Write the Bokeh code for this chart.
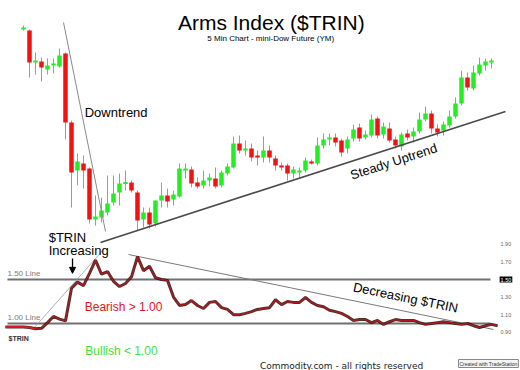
from bokeh.plotting import figure
from bokeh.models import Range1d, Label, Arrow, NormalHead, ColumnDataSource
from bokeh.embed import file_html
from bokeh.resources import INLINE
from bokeh.core.properties import value

# ---------------- data ----------------
bars = list(range(1, 80))
opens = [12606, 12605, 12573, 12574, 12566, 12570, 12569, 12582, 12513, 12465,
         12472, 12467, 12416, 12418, 12423, 12433, 12443, 12452, 12453, 12443,
         12416, 12423, 12412, 12435, 12440, 12436, 12439, 12465, 12466, 12453,
         12450, 12455, 12457, 12450, 12462, 12468, 12492, 12485, 12487, 12480,
         12478, 12485, 12477, 12470, 12470, 12462, 12463, 12465, 12474, 12472,
         12490, 12496, 12498, 12495, 12487, 12497, 12508, 12498, 12500, 12517,
         12501, 12507, 12496, 12489, 12502, 12499, 12504, 12516, 12522, 12507,
         12505, 12510, 12519, 12532, 12558, 12547, 12562, 12570, 12573]
closes = [12608, 12573, 12575, 12568, 12570, 12572, 12580, 12513, 12463, 12474,
          12465, 12416, 12419, 12425, 12432, 12442, 12452, 12453, 12445, 12415,
          12423, 12411, 12435, 12440, 12434, 12441, 12467, 12467, 12452, 12449,
          12455, 12458, 12449, 12463, 12469, 12492, 12485, 12487, 12478, 12478,
          12485, 12478, 12470, 12468, 12462, 12466, 12465, 12475, 12472, 12490,
          12496, 12498, 12493, 12483, 12496, 12506, 12497, 12501, 12516, 12500,
          12509, 12495, 12490, 12501, 12498, 12504, 12516, 12522, 12507, 12503,
          12511, 12519, 12532, 12558, 12548, 12563, 12571, 12574, 12575]
highs = [12610, 12606, 12583, 12578, 12577, 12577, 12587, 12583, 12515, 12482,
         12480, 12468, 12440, 12438, 12460, 12460, 12462, 12465, 12455, 12445,
         12428, 12428, 12435, 12453, 12447, 12445, 12472, 12472, 12469, 12458,
         12465, 12462, 12468, 12465, 12472, 12499, 12500, 12495, 12492, 12485,
         12499, 12490, 12480, 12473, 12472, 12469, 12468, 12478, 12476, 12498,
         12502, 12502, 12502, 12497, 12499, 12511, 12512, 12505, 12521, 12519,
         12513, 12513, 12499, 12503, 12506, 12508, 12523, 12529, 12525, 12511,
         12514, 12525, 12538, 12565, 12563, 12570, 12578, 12577, 12577]
lows = [12605, 12558, 12561, 12554, 12561, 12562, 12568, 12496, 12428, 12450,
        12447, 12412, 12410, 12413, 12420, 12430, 12430, 12445, 12443, 12405,
        12408, 12407, 12409, 12428, 12428, 12430, 12438, 12457, 12448, 12447,
        12447, 12449, 12447, 12448, 12460, 12467, 12482, 12480, 12474, 12470,
        12473, 12473, 12465, 12465, 12455, 12457, 12457, 12463, 12471, 12470,
        12487, 12490, 12489, 12479, 12482, 12494, 12494, 12496, 12498, 12497,
        12497, 12493, 12487, 12485, 12495, 12493, 12502, 12514, 12502, 12499,
        12500, 12508, 12517, 12530, 12545, 12545, 12560, 12565, 12567]

trin_bars = list(range(-2, 81))
trin = [0.96, 0.96, 0.96, 0.96, 0.955, 0.94, 0.945, 1.01, 1.08, 1.05, 1.03,
        1.40, 1.47, 1.43, 1.57, 1.72, 1.56, 1.59, 1.48, 1.42, 1.455,
        1.53, 1.76, 1.60, 1.65, 1.52, 1.50, 1.49, 1.30, 1.205, 1.215,
        1.26, 1.205, 1.17, 1.24, 1.25, 1.18, 1.16, 1.10, 1.10, 1.115,
        1.135, 1.16, 1.17, 1.18, 1.27, 1.215, 1.25, 1.24, 1.24, 1.295,
        1.24, 1.205, 1.19, 1.15, 1.135, 1.115, 1.08, 1.035, 1.045, 1.045,
        1.01, 1.035, 0.99, 1.02, 1.045, 1.035, 1.035, 1.035, 1.01, 0.99,
        1.00, 1.01, 1.02, 1.01, 1.00, 0.99, 1.00, 0.975, 0.955, 0.975,
        0.99, 0.975]

trin_levels = [1.50, 1.00]
trin_ticks = [0.90, 1.10, 1.30, 1.70, 1.90]
trin_tick_labels = ["0.90", "1.10", "1.30", "1.70", "1.90"]

# trend lines (bar index, price / trin)
down_x, down_y = [7.67, 14.67], [12613, 12404]
up_x, up_y = [13.83, 81.33], [12393, 12524]
trin_up_x, trin_up_y = [2.67, 14.33], [0.943, 1.84]
trin_down_x, trin_down_y = [18.5, 79.33], [1.784, 0.932]

# ---------------- figure ----------------
p = figure(width=520, height=370, output_backend="svg", toolbar_location=None,
           x_axis_type=None, y_axis_type=None,
           x_range=Range1d(-2.833, 83.833), y_range=Range1d(12265, 12635))
p.extra_y_ranges = {"trin": Range1d(0.4659, 4.6705)}
p.min_border_left = 0
p.min_border_top = 0
p.min_border_bottom = 0
p.min_border_right = 0
p.outline_line_color = None
p.background_fill_color = "white"
p.border_fill_color = "white"
p.xgrid.visible = False
p.ygrid.visible = False

FONT = "Liberation Sans"

# right-hand TRIN scale labels
p.text(x=[80.5] * len(trin_ticks), y=trin_ticks, text=trin_tick_labels,
       y_range_name="trin", text_font=value(FONT), text_font_size="5.5px",
       text_color="#666666", text_baseline="middle", text_align="left")

# candles
up_col, dn_col = "#22ee22", "#f21212"
colors = [up_col if c >= o else dn_col for o, c in zip(opens, closes)]
src = ColumnDataSource(dict(x=bars, o=opens, c=closes, h=highs, l=lows,
                            top=[max(a, b) + (0.6 if abs(a - b) < 1.2 else 0) for a, b in zip(opens, closes)],
                            bot=[min(a, b) - (0.6 if abs(a - b) < 1.2 else 0) for a, b in zip(opens, closes)],
                            col=colors))
p.segment(x0="x", y0="h", x1="x", y1="l", source=src, line_color="#9a9a9a", line_width=1)
p.vbar(x="x", top="top", bottom="bot", width=0.75, source=src,
       fill_color="col", line_color=None)

# price trend lines
p.line(down_x, down_y, line_color="#8a8a8a", line_width=1)
p.line(up_x, up_y, line_color="#4a4a4a", line_width=1.6)

# TRIN levels
for lv in trin_levels:
    p.line([-1.67, 78.83], [lv, lv], y_range_name="trin", line_color="#707070", line_width=2)

p.line(trin_up_x, trin_up_y, y_range_name="trin", line_color="#9a9a9a", line_width=0.8)
p.line(trin_down_x, trin_down_y, y_range_name="trin", line_color="#7a7a7a", line_width=1)

# TRIN series
p.line(trin_bars, trin, y_range_name="trin", line_color="#2a0a0a", line_width=3, line_alpha=0.85)
p.line(trin_bars, trin, y_range_name="trin", line_color="#b01a1e", line_width=1.3)
p.line(trin_bars[:6], trin[:6], y_range_name="trin", line_color="#e81818", line_width=1.6)


def lab(x, y, text, size, color="black", align="left", baseline="alphabetic",
        angle=0, rng="default", font=FONT, style="normal", **kw):
    l = Label(x=x, y=y, text=text, text_font_size=size, text_color=color,
              text_align=align, text_baseline=baseline, angle=angle,
              text_font=font, text_font_style=style, y_range_name=rng, **kw)
    p.add_layout(l)
    return l


lab(42.3, 12613.5, "Arms Index ($TRIN)", "21px", align="center")
lab(42.2, 12597.5, "5 Min Chart - mini-Dow Future (YM)", "8px", align="center")
lab(11.2, 12523, "Downtrend", "13px")
lab(62.7, 12474, "Steady Uptrend", "13px", align="center", baseline="middle", angle=0.313)
lab(5.2, 12398.5, "$TRIN", "13px")
lab(5.2, 12385, "Increasing", "13px")

lab(-1.67, 1.568, "1.50 Line", "8px", color="#7a7a7a", rng="trin")
lab(-1.67, 1.072, "1.00 Line", "8px", color="#7a7a7a", rng="trin")
lab(-1.5, 0.83, "$TRIN", "7px", color="#333333", rng="trin", style="bold")
lab(11.2, 1.182, "Bearish > 1.00", "12px", color="#e0141e", rng="trin")
lab(11.3, 0.693, "Bullish  < 1.00", "12px", color="#3ee03e", rng="trin")
lab(64.7, 1.295, "Decreasing $TRIN", "13px", align="center", baseline="middle",
    angle=-0.202, rng="trin")
lab(40.4, 0.515, "Commodity.com - all rights reserved", "9px", color="#222222",
    rng="trin", font="DejaVu Sans")

lab(80.35, 1.50, "1.50", "5.5px", color="white", baseline="middle", rng="trin",
    background_fill_color="black", padding=1)
ts = Label(x=458, x_units="screen", y=3, y_units="screen", text="Created with TradeStation",
           text_font_size="5px", text_color="#333333", text_font=FONT,
           background_fill_color="#f4f4f4", border_line_color="#888888", padding=1)
p.add_layout(ts)

p.add_layout(Arrow(end=NormalHead(size=6, fill_color="black", line_color="black"),
                   x_start=9.17, y_start=1.74, x_end=9.17, y_end=1.57,
                   y_range_name="trin", line_color="black", line_width=1.3))

open("out.html", "w").write(file_html(p, INLINE))
